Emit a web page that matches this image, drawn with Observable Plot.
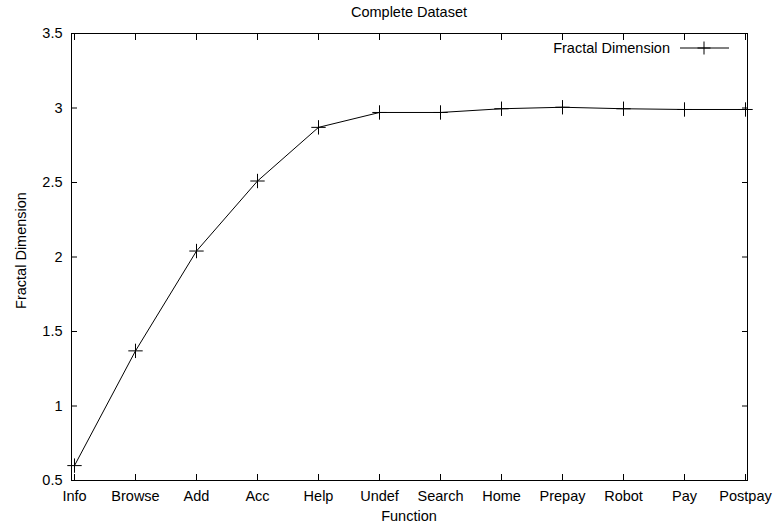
<!DOCTYPE html>
<html><head><meta charset="utf-8">
<script src="https://cdn.jsdelivr.net/npm/d3@7"></script>
<script src="https://cdn.jsdelivr.net/npm/@observablehq/plot@0.6"></script>
<style>body{margin:0;background:#fff}</style>
</head><body><div id="chart"></div>
<script>
const categories = ["Info","Browse","Add","Acc","Help","Undef","Search","Home","Prepay","Robot","Pay","Postpay"];
const values = [0.60, 1.37, 2.04, 2.51, 2.87, 2.97, 2.97, 2.995, 3.005, 2.995, 2.99, 2.99];
const yTicks = [0.5, 1, 1.5, 2, 2.5, 3, 3.5];
const yDomain = [0.5, 3.5];
const titleText = "Complete Dataset";
const xLabel = "Function";
const yLabel = "Fractal Dimension";
const seriesName = "Fractal Dimension";

const data = categories.map((c, i) => ({c, v: values[i]}));
const FONT = "'Liberation Sans', Helvetica, Arial, sans-serif";
const FS = 14.5;

function decorations(index, scales, values, dims) {
  const {width, height, marginTop, marginRight, marginBottom, marginLeft} = dims;
  const g = d3.create("svg:g").attr("font-family", FONT).attr("font-size", FS).attr("fill", "black");
  const right = width - marginRight;
  // title
  g.append("text").attr("x", (marginLeft + right) / 2).attr("y", marginTop - 21)
    .attr("text-anchor", "middle").attr("dy", "0.35em").text(titleText);
  // x label
  g.append("text").attr("x", (marginLeft + right) / 2).attr("y", height - 11)
    .attr("text-anchor", "middle").attr("dy", "0.35em").text(xLabel);
  // y label
  g.append("text").attr("transform", `translate(${marginLeft - 50},${(marginTop + height - marginBottom) / 2 - 6}) rotate(-90)`)
    .attr("text-anchor", "middle").attr("dy", "0.35em").text(yLabel);
  // legend
  const ly = marginTop + 15;
  g.append("text").attr("x", right - 77).attr("y", ly).attr("text-anchor", "end").attr("dy", "0.35em").text(seriesName);
  g.append("line").attr("x1", right - 67).attr("x2", right - 18).attr("y1", ly).attr("y2", ly)
    .attr("stroke", "black").attr("stroke-width", 1);
  g.append("path").attr("d", `M${right - 49.5},${ly} h13 M${right - 43},${ly - 6.5} v13`)
    .attr("stroke", "black").attr("stroke-width", 1).attr("fill", "none");
  return g.node();
}

const chart = Plot.plot({
  width: 775,
  height: 527,
  marginLeft: 71,
  marginRight: 28,
  marginTop: 33,
  marginBottom: 47,
  style: {fontFamily: FONT, background: "white", color: "black"},
  x: {type: "point", domain: categories, padding: 0},
  y: {domain: yDomain},
  marks: [
    Plot.frame({stroke: "black", strokeWidth: 1}),
    Plot.axisX({anchor: "bottom", tickSize: -6, tickPadding: 16, fontSize: FS, label: null}),
    Plot.axisX({anchor: "top", tickSize: -6, tickFormat: () => "", label: null}),
    Plot.axisY({anchor: "left", ticks: yTicks, tickSize: -6, tickPadding: 15, fontSize: FS, label: null, tickFormat: d => String(d)}),
    Plot.axisY({anchor: "right", ticks: yTicks, tickSize: -6, tickFormat: () => "", label: null}),
    Plot.line(data, {x: "c", y: "v", stroke: "black", strokeWidth: 1}),
    Plot.dot(data, {x: "c", y: "v", symbol: "plus", r: 4.7, stroke: "black", strokeWidth: 1, fill: "none"}),
    decorations
  ]
});
document.getElementById("chart").appendChild(chart);
</script>
</body></html>
